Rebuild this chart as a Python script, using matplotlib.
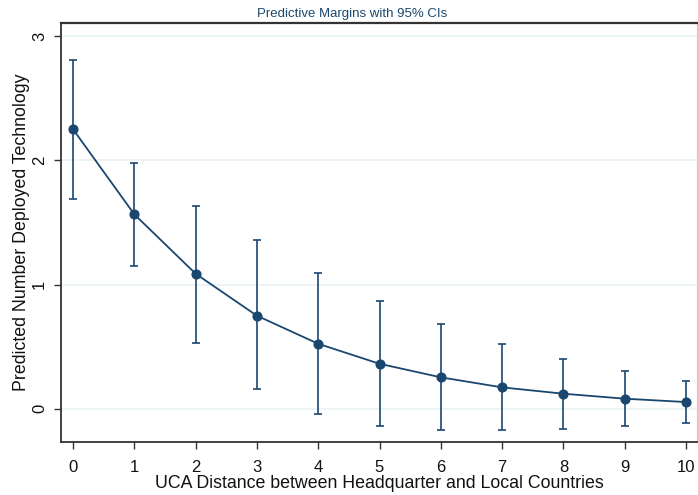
import matplotlib
matplotlib.use("Agg")
import matplotlib.pyplot as plt

# Predictive margins by UCA distance
distance = [0, 1, 2, 3, 4, 5, 6, 7, 8, 9, 10]
margin = [2.25, 1.565, 1.087, 0.749, 0.523, 0.362, 0.253, 0.172, 0.121, 0.081, 0.054]
ci_upper = [2.807, 1.976, 1.634, 1.358, 1.090, 0.865, 0.680, 0.518, 0.400, 0.306, 0.225]
ci_lower = [1.686, 1.151, 0.531, 0.159, -0.045, -0.137, -0.174, -0.174, -0.161, -0.137, -0.113]

x_ticks = [0, 1, 2, 3, 4, 5, 6, 7, 8, 9, 10]
y_ticks = [0, 1, 2, 3]

navy = "#1a476f"
plt.rcParams["font.family"] = ["Liberation Sans", "DejaVu Sans"]

fig = plt.figure(figsize=(6.98, 4.95), dpi=100)
ax = fig.add_axes([0.0874, 0.107, 0.9112, 0.8465])

for y in y_ticks:
    ax.axhline(y, color="#eaf2f3", lw=1.2, zorder=0)

lower_err = [m - lo for m, lo in zip(margin, ci_lower)]
upper_err = [hi - m for m, hi in zip(margin, ci_upper)]
ax.errorbar(distance, margin, yerr=[lower_err, upper_err], fmt="none",
            ecolor=navy, elinewidth=1.2, capsize=3, capthick=1.2, zorder=2)
ax.plot(distance, margin, color=navy, lw=1.3, marker="o", ms=6.3,
        mfc=navy, mec=navy, zorder=3)

ax.set_xlim(-0.196, 10.18)
ax.set_ylim(-0.268, 3.105)
ax.set_xticks(x_ticks)
ax.set_yticks(y_ticks)
ax.tick_params(axis="both", direction="out", length=5, width=1, color="#333333",
               labelsize=12, labelcolor="#111111")
ax.tick_params(axis="x", pad=8)
ax.tick_params(axis="y", labelrotation=90, pad=5)
for lbl in ax.get_yticklabels():
    lbl.set_va("center")

ax.spines["left"].set_color("#333333")
ax.spines["bottom"].set_color("#333333")
ax.spines["top"].set_color("#333333")
ax.spines["top"].set_linewidth(1.6)
ax.spines["left"].set_linewidth(1.3)
ax.spines["bottom"].set_linewidth(1.3)
ax.spines["right"].set_color("#c8c8c8")

ax.set_xlabel("UCA Distance between Headquarter and Local Countries",
              fontsize=12.8, color="#111111", labelpad=0)
ax.set_ylabel("Predicted Number Deployed Technology", fontsize=12.8,
              color="#111111", labelpad=1.5)
fig.text(0.504, 0.972, "Predictive Margins with 95% CIs", ha="center",
         va="center", fontsize=9.5, color=navy)

fig.savefig("out.png", dpi=100, facecolor="white")
